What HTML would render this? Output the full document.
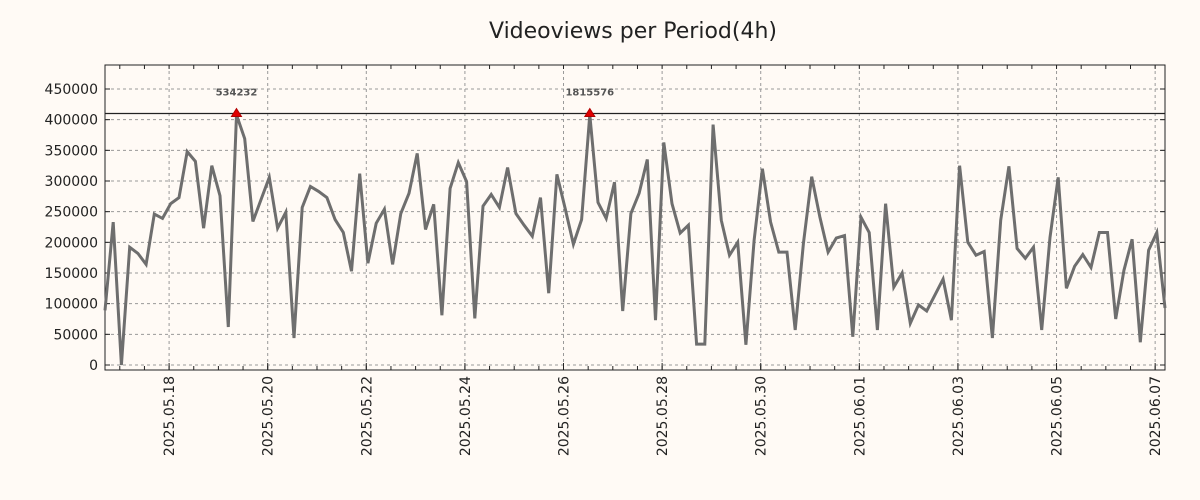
<!DOCTYPE html>
<html><head><meta charset="utf-8"><style>
html,body{margin:0;padding:0;background:#fffaf5;}
svg{display:block;font-family:"DejaVu Sans","Liberation Sans",sans-serif;}
</style></head><body>
<svg id="chart" width="1200" height="500" viewBox="0 0 1200 500" xmlns="http://www.w3.org/2000/svg">
<rect width="1200" height="500" fill="#fffaf5"/>
<text x="633" y="38" font-size="22" text-anchor="middle" fill="#222">Videoviews per Period(4h)</text>
<g id="grid"></g><g id="axes"></g><g id="series"></g><g id="marks"></g>
</svg>
<script>
const views = [89,233,0,192,182,164,246,239,263,273,348,332,223,325,276,62,408,369,234,270,306,223,249,44,257,291,283,273,237,216,153,312,166,231,254,164,247,280,345,221,262,81,288,330,299,76,259,278,257,322,247,228,210,273,117,311,255,197,237,408,265,239,298,88,247,280,335,73,363,263,215,228,34,34,392,236,179,200,33,203,320,233,184,184,57,198,307,241,184,207,211,46,241,216,57,263,127,150,68,98,88,114,140,73,325,200,179,185,44,236,324,190,174,192,57,208,306,125,161,180,159,216,216,75,154,205,37,187,216,93];
const yTicks = [0,50000,100000,150000,200000,250000,300000,350000,400000,450000];
const xTickLabels = ["2025.05.18","2025.05.20","2025.05.22","2025.05.24","2025.05.26","2025.05.28","2025.05.30","2025.06.01","2025.06.03","2025.06.05","2025.06.07"];
const xTickDays = [0,2,4,6,8,10,12,14,16,18,20];
const peakIdx = [16,59];
const peakLabels = ["534232","1815576"];
const refLine = 410000;

const NS="http://www.w3.org/2000/svg";
const L=105,R=1165,T=65,B=370;
const stepH=4, startOffsetH=-31.2; // hours of first point relative to 2025.05.18 00:00
const n=views.length;
const xIdx=i=>L+i*(R-L)/(n-1);
const xHours=h=>xIdx((h-startOffsetH)/stepH);
const yv=v=>365-v*276/450000;
function mk(tag,attrs,parent){const e=document.createElementNS(NS,tag);for(const k in attrs)e.setAttribute(k,attrs[k]);parent.appendChild(e);return e;}
const grid=document.getElementById('grid'),axes=document.getElementById('axes'),series=document.getElementById('series'),marks=document.getElementById('marks');

yTicks.forEach(t=>{const y=yv(t);
 const g=mk('line',{x1:L,x2:R,y1:y,y2:y,stroke:'#999','stroke-dasharray':'3,3','stroke-width':1},grid);
 
 
 mk('line',{x1:L,x2:L+5,y1:y,y2:y,stroke:'#222'},axes);
 mk('line',{x1:R-5,x2:R,y1:y,y2:y,stroke:'#222'},axes);
 const tx=mk('text',{x:L-7,y:y+5,'font-size':14,'text-anchor':'end',fill:'#222'},axes);
 tx.textContent=t;
 
 
});
for(let d=-1;d<=20.5;d+=0.5){const x=xHours(d*24);if(x<L||x>R)continue;
 mk('line',{x1:x,x2:x,y1:B,y2:B-4,stroke:'#222'},axes);
 mk('line',{x1:x,x2:x,y1:T,y2:T+4,stroke:'#222'},axes);}
xTickDays.forEach((d,i)=>{const x=xHours(d*24);
 const g=mk('line',{x1:x,x2:x,y1:T,y2:B,stroke:'#999','stroke-dasharray':'3,3','stroke-width':1},grid);
 
 
 mk('line',{x1:x,x2:x,y1:B,y2:B-7,stroke:'#222'},axes);
 const tx=mk('text',{x:0,y:0,'font-size':14,'text-anchor':'end',fill:'#222',transform:`translate(${x+5},376) rotate(-90)`},axes);
 tx.textContent=xTickLabels[i];
 
 
});
const frame=mk('rect',{x:L,y:T,width:R-L,height:B-T,fill:'none',stroke:'#222','stroke-width':1},axes);


const rl=mk('line',{x1:L,x2:R,y1:yv(refLine),y2:yv(refLine),stroke:'#222','stroke-width':1.2},marks);



const pts=views.map((v,i)=>xIdx(i).toFixed(1)+','+yv(v*1000).toFixed(1)).join(' ');
const pl=mk('polyline',{points:pts,fill:'none',stroke:'#6e6e6e','stroke-width':3,'stroke-linejoin':'miter'},series);



peakIdx.forEach((i,k)=>{const x=xIdx(i),y=yv(refLine);
 const tri=mk('polygon',{points:`${x-5},${y+3} ${x+5},${y+3} ${x},${y-5}`,fill:'#e00000',stroke:'#b00000'},marks);
 
 
 const tx=mk('text',{x:x,y:y-18,'font-size':10,'text-anchor':'middle',fill:'#555','font-weight':'bold'},marks);
 tx.textContent=peakLabels[k];
 
 
});
</script>
</body></html>
